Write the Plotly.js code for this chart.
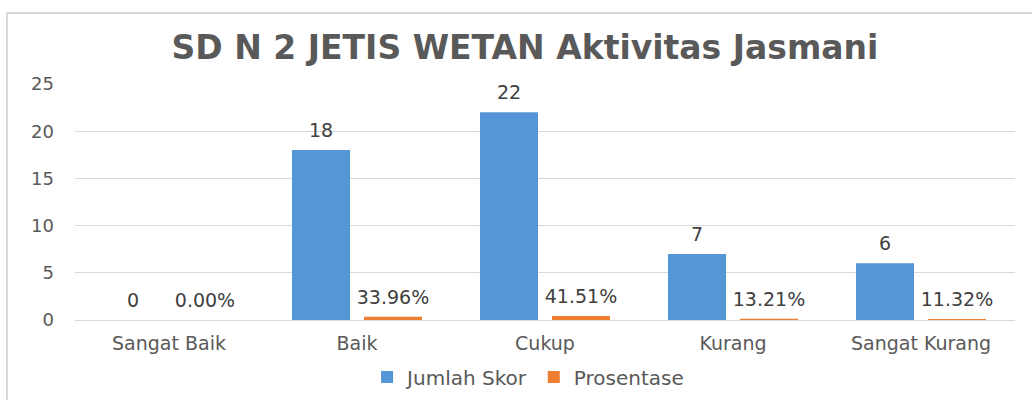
<!DOCTYPE html>
<html>
<head>
<meta charset="utf-8">
<script src="https://cdn.plot.ly/plotly-3.0.1.min.js"></script>
<style>
  html, body { margin: 0; padding: 0; background: #ffffff; }
  #wrap { position: relative; width: 1032px; height: 400px; overflow: hidden; }
  #frame { position: absolute; left: 6px; top: 12px; width: 1100px; height: 500px;
           border-left: 2px solid #d9d9d9; border-top: 2px solid #d9d9d9; z-index: 0; }
  #chart { position: absolute; left: 0; top: 0; width: 1032px; height: 400px; z-index: 1; }
</style>
</head>
<body>
<div id="wrap">
  <div id="frame"></div>
  <div id="chart"></div>
</div>
<script>
const categories = ["Sangat Baik", "Baik", "Cukup", "Kurang", "Sangat Kurang"];
const jumlahSkor = [0, 18, 22, 7, 6];
const prosentase = [0.0, 0.3396, 0.4151, 0.1321, 0.1132];
const seriesNames = ["Jumlah Skor", "Prosentase"];
const yTicks = [0, 5, 10, 15, 20, 25];

const blue = "#5597d6";
const orange = "#ed7d31";
const labelFont = { family: "DejaVu Sans", size: 19, color: "#404040" };

const traces = [
  {
    type: "bar", name: seriesNames[0], x: categories, y: jumlahSkor,
    offsetgroup: "ta", marker: { color: blue }, hoverinfo: "skip"
  },
  {
    type: "bar", name: seriesNames[1], x: categories, y: prosentase,
    offsetgroup: "tb", marker: { color: orange }, hoverinfo: "skip"
  },
  {
    type: "scatter", mode: "markers+text", x: categories, y: jumlahSkor,
    offsetgroup: "ta", texttemplate: "%{y}", textposition: "top center",
    textfont: labelFont, marker: { size: 12, opacity: 0 },
    showlegend: false, hoverinfo: "skip", cliponaxis: false
  },
  {
    type: "scatter", mode: "markers+text", x: categories, y: prosentase,
    offsetgroup: "tb", texttemplate: "%{y:.2%}", textposition: "top center",
    textfont: labelFont, marker: { size: 12, opacity: 0 },
    showlegend: false, hoverinfo: "skip", cliponaxis: false
  }
];

const layout = {
  width: 1032, height: 400,
  margin: { l: 75, r: 17, t: 84, b: 80, autoexpand: false },
  paper_bgcolor: "rgba(0,0,0,0)",
  plot_bgcolor: "rgba(0,0,0,0)",
  barmode: "group", bargap: 0.234, bargroupgap: 0.194,
  scattermode: "group", scattergap: 0.234,
  title: {
    text: "<b>SD N 2 JETIS WETAN Aktivitas Jasmani</b>",
    x: 0.5087, xanchor: "center", xref: "container",
    y: 0.8825, yanchor: "middle", yref: "container",
    font: { family: "DejaVu Sans", size: 33, color: "#595959" }
  },
  xaxis: {
    type: "category", automargin: false,
    tickfont: { family: "DejaVu Sans", size: 19, color: "#595959" },
    showline: true, linecolor: "#d9d9d9", linewidth: 1,
    ticks: "", ticklabelstandoff: 6, fixedrange: true
  },
  yaxis: {
    range: [0, 25], tickvals: yTicks, automargin: false,
    tickfont: { family: "DejaVu Sans", size: 18, color: "#595959" },
    gridcolor: "#d9d9d9", gridwidth: 1, zeroline: false,
    ticks: "", ticklabelstandoff: 20, fixedrange: true
  },
  legend: {
    orientation: "h", x: 0.482, xanchor: "center", y: -0.2415, yanchor: "middle",
    font: { family: "DejaVu Sans", size: 20, color: "#595959" },
    bgcolor: "rgba(0,0,0,0)"
  },
  showlegend: true
};

Plotly.newPlot("chart", traces, layout, { staticPlot: true, displayModeBar: false });
</script>
</body>
</html>
